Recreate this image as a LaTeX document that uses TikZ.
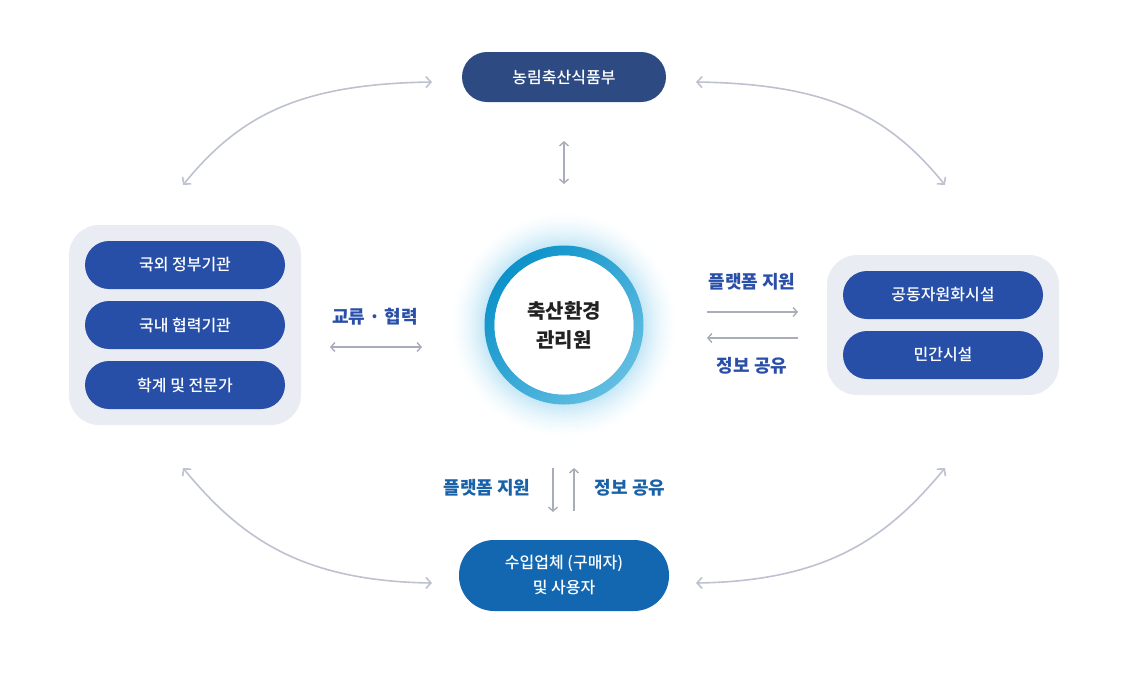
\documentclass[tikz,border=0pt]{standalone}
\usepackage{fontspec}
\setmainfont{Noto Sans CJK KR}
\newfontfamily\medfont{Noto Sans CJK KR Medium}
\usetikzlibrary{arrows.meta}
\definecolor{navy}{HTML}{2D4A82}
\definecolor{pillblue}{HTML}{284FA7}
\definecolor{botblue}{HTML}{1367B0}
\definecolor{grpbg}{HTML}{E9EDF3}
\definecolor{lblblue}{HTML}{2A4FA8}
\definecolor{botlbl}{HTML}{1A62A8}
\definecolor{arrgray}{HTML}{A9ACB9}
\definecolor{curvegray}{HTML}{BEC2D0}
\definecolor{ringA}{HTML}{0C92C9}
\definecolor{ringB}{HTML}{62BEE2}
\definecolor{glowc}{HTML}{C6E8F7}
\definecolor{txtdark}{HTML}{222222}
\tikzset{
  pill/.style={fill=pillblue, rounded corners=24pt, minimum width=200pt, minimum height=48pt, inner sep=0pt, text=white, font=\medfont\fontsize{16}{19}\selectfont},
  grp/.style={fill=grpbg, rounded corners=30pt, inner sep=0pt},
  lbl/.style={text=lblblue, font=\fontsize{18}{21}\selectfont\bfseries, inner sep=0pt},
  blbl/.style={text=botlbl, font=\fontsize{18}{21}\selectfont\bfseries, inner sep=0pt},
  sarrow/.style={draw=arrgray, line width=1.4pt},
  tipS/.tip={Straight Barb[length=4pt,width=9pt,line width=1.4pt]},
  tipC/.tip={Straight Barb[length=5pt,width=11pt,line width=1.6pt]},
  carrow/.style={draw=curvegray, line width=1.6pt, tipC-tipC},
}
\begin{document}
\begin{tikzpicture}[x=1pt,y=-1pt]
\useasboundingbox (0,0) rectangle (1128,678);
% glow and ring
\foreach \r in {114,113,...,80}{
  \pgfmathsetmacro{\p}{100*((114-\r)/34)^1.6}
  \fill[glowc!\p!white] (564,325) circle (\r);
}
\path[even odd rule, top color=ringA, bottom color=ringB, shading angle=45] (564,325) circle (79.5) (564,325) circle (69.5);
\node[circle, fill=white, minimum size=139pt, inner sep=0pt, align=center, text=txtdark, font=\fontsize{20}{29}\selectfont\bfseries] (ctr) at (564,325) {축산환경\\관리원};

% top node
\node[pill, fill=navy, minimum width=204pt, minimum height=50pt, rounded corners=25pt] (mafra) at (564,77) {농림축산식품부};

% left group
\node[grp, minimum width=232pt, minimum height=200pt] (lgrp) at (185,325) {};
\node[pill] (l1) at (185,265) {국외 정부기관};
\node[pill] (l2) at (185,325) {국내 협력기관};
\node[pill] (l3) at (185,385) {학계 및 전문가};

% right group
\node[grp, minimum width=232pt, minimum height=140pt] (rgrp) at (943,325) {};
\node[pill] (r1) at (943,295) {공동자원화시설};
\node[pill] (r2) at (943,355) {민간시설};

% bottom node
\node[pill, fill=botblue, minimum width=210pt, minimum height=71pt, rounded corners=35pt, align=center, font=\medfont\fontsize{16}{25}\selectfont] (imp) at (564,575.5) {수입업체 (구매자)\\및 사용자};

% labels
\node[lbl] (coop) at (375,317) {교류 · 협력};
\node[lbl] (rsup) at (752,282) {플랫폼 지원};
\node[lbl] (rshr) at (752,366) {정보 공유};
\node[blbl] (bsup) at (487,488) {플랫폼 지원};
\node[blbl] (bshr) at (630,488) {정보 공유};

% arrow end points
\coordinate (t1) at (564,141); \coordinate (t2) at (564,184);
\coordinate (c1) at (330,347); \coordinate (c2) at (422,347);
\coordinate (ra1) at (707,312); \coordinate (ra2) at (798,312);
\coordinate (rb1) at (798,338); \coordinate (rb2) at (707,338);
\coordinate (ba1) at (553,468); \coordinate (ba2) at (553,512);
\coordinate (bb1) at (574,511); \coordinate (bb2) at (574,468);

\draw[sarrow, tipS-tipS] (t1) -- (t2);
\draw[sarrow, tipS-tipS] (c1) -- (c2);
\draw[sarrow, -tipS] (ra1) -- (ra2);
\draw[sarrow, -tipS] (rb1) -- (rb2);
\draw[sarrow, -tipS] (ba1) -- (ba2);
\draw[sarrow, -tipS] (bb1) -- (bb2);

% curves
\coordinate (TLa) at (432,82); \coordinate (TLb) at (183,185);
\coordinate (TRa) at (696,82); \coordinate (TRb) at (945,185);
\coordinate (BLa) at (183,468); \coordinate (BLb) at (432,583);
\coordinate (BRa) at (945,468); \coordinate (BRb) at (696,583);
\draw[carrow] (TLa) .. controls (300,84) and (240,115) .. (TLb);
\draw[carrow] (TRa) .. controls (828,84) and (888,115) .. (TRb);
\draw[carrow] (BLa) .. controls (240,537) and (300,581) .. (BLb);
\draw[carrow] (BRa) .. controls (888,537) and (828,581) .. (BRb);
\end{tikzpicture}
\end{document}
